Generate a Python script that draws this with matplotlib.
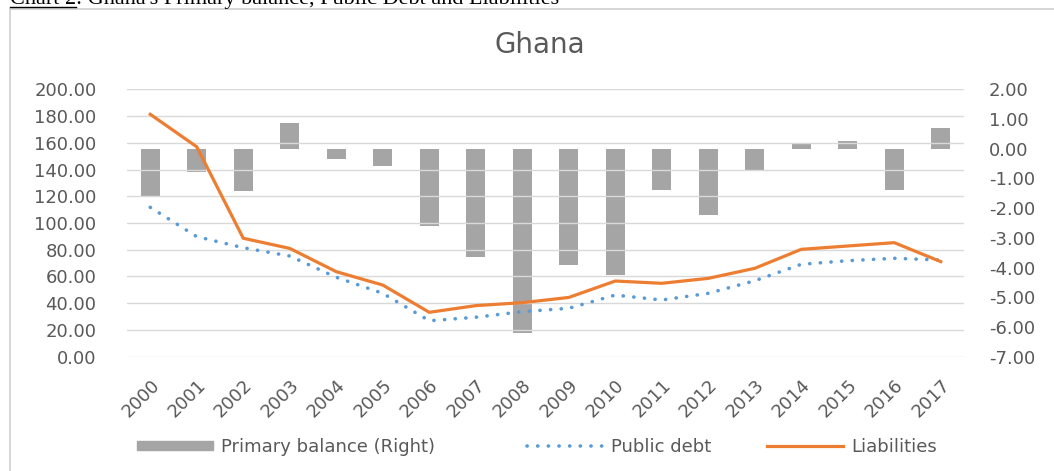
import matplotlib
matplotlib.use('Agg')
import matplotlib.pyplot as plt
from matplotlib.patches import Rectangle, Patch
from matplotlib.lines import Line2D
import numpy as np

years = [str(y) for y in range(2000, 2018)]
primary_balance = [-1.60, -0.78, -1.43, 0.88, -0.36, -0.58, -2.60, -3.63, -6.20,
                   -3.90, -4.24, -1.40, -2.22, -0.70, 0.15, 0.25, -1.38, 0.70]
public_debt = [111.7, 89.8, 81.5, 75.3, 59.4, 47.4, 26.9, 29.5, 33.7,
               36.2, 46.1, 42.4, 47.4, 56.8, 69.1, 71.8, 73.6, 72.3]
liabilities = [181.3, 157.0, 88.6, 81.0, 63.6, 53.6, 33.2, 38.2, 40.4,
               44.3, 56.6, 54.9, 58.6, 66.1, 80.3, 82.8, 85.3, 71.1]
legend_labels = ['Primary balance (Right)', 'Public debt', 'Liabilities']

W, H = 1054, 471
GREY_TXT = '#595959'
fig = plt.figure(figsize=(W / 100, H / 100), dpi=100)
plt.rcParams['font.family'] = ['DejaVu Sans']

# chart frame
fig.patches.append(Rectangle((10 / W, -0.05), 1.05, 1 - 9 / H + 0.05,
                             transform=fig.transFigure, fill=False,
                             edgecolor='#d0d0d0', linewidth=1.2))

ax = fig.add_axes([127 / W, 1 - 356.7 / H, (964 - 127) / W, (356.7 - 89.3) / H])
ax2 = ax.twinx()

x = np.arange(len(years))
ax2.bar(x, primary_balance, width=0.4, color='#a5a5a5', zorder=2)
ax.plot(x, public_debt, color='#5b9bd5', linewidth=2.6,
        linestyle=(0, (0.05, 2.9)), dash_capstyle='round', zorder=3)
ax.plot(x, liabilities, color='#ed7d31', linewidth=2.3, zorder=4)

ax.set_zorder(ax2.get_zorder() + 1)
ax.patch.set_visible(False)

ax.set_xlim(-0.5, len(years) - 0.5)
ax.set_ylim(0, 200)
ax.set_yticks(np.arange(0, 201, 20))
ax.set_yticklabels([f'{v:.2f}' for v in np.arange(0, 201, 20)])
ax2.set_ylim(-7, 2)
ax2.set_yticks(np.arange(-7, 3, 1))
ax2.set_yticklabels([f'{v:.2f}' for v in np.arange(-7, 3, 1)])

ax.grid(axis='y', color='#d9d9d9', linewidth=1)
ax.set_xticks(x)
ax.set_xticklabels(years, rotation=45, ha='right', va='top', rotation_mode='anchor')

for a in (ax, ax2):
    for s in a.spines.values():
        s.set_visible(False)
    a.tick_params(length=0, labelsize=13, colors=GREY_TXT)
ax.tick_params(axis='y', pad=22)
ax2.tick_params(axis='y', pad=18)
ax.tick_params(axis='x', pad=14)

fig.text(540 / W, 1 - 45 / H, 'Ghana', ha='center', va='center', fontsize=20, color=GREY_TXT)

handles = [Patch(color='#a5a5a5'),
           Line2D([], [], color='#5b9bd5', linewidth=2.6, linestyle=(0, (0.05, 2.9)),
                  dash_capstyle='round'),
           Line2D([], [], color='#ed7d31', linewidth=2.3)]
starts = [137, 527, 767]
for h, lab, x0 in zip(handles, legend_labels, starts):
    leg = fig.legend([h], [lab], loc='center left', bbox_to_anchor=(x0 / W, 1 - 447 / H),
                     frameon=False, fontsize=13, handlelength=4.2, handleheight=0.45,
                     handletextpad=0.45, borderpad=0, borderaxespad=0,
                     labelcolor=GREY_TXT)

# caption, cut at the top of the picture
c1 = fig.text(10 / W, 1 - 4 / H, 'Chart 2', fontsize=16, family='Liberation Serif',
              va='baseline', ha='left')
fig.canvas.draw()
bb = c1.get_window_extent().transformed(fig.transFigure.inverted())
fig.text(bb.x1, 1 - 4 / H, ": Ghana's Primary balance, Public Debt and Liabilities",
         fontsize=16, family='Liberation Serif', va='baseline', ha='left')
fig.add_artist(Line2D([bb.x0, bb.x1], [1 - 6.5 / H, 1 - 6.5 / H], color='black',
                      linewidth=1, transform=fig.transFigure))

fig.savefig('out.png', dpi=100)
